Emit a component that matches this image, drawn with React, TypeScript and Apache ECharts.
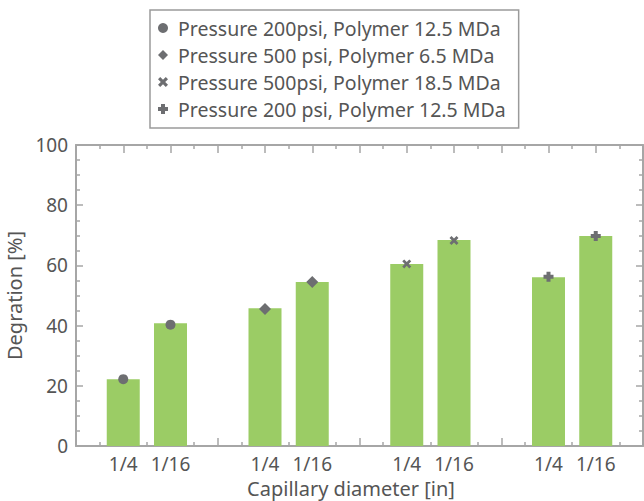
import React, { useEffect, useRef } from "react";
import * as echarts from "echarts";

const barPositions = [1, 2, 4, 5, 7, 8, 10, 11];
const groupLabels = ["1/4", "1/16", "1/4", "1/16", "1/4", "1/16", "1/4", "1/16"];
const degradation = [22.2, 40.8, 45.8, 54.5, 60.5, 68.4, 56.1, 69.8];

const seriesNames = [
  "Pressure 200psi, Polymer 12.5 MDa",
  "Pressure 500 psi, Polymer 6.5 MDa",
  "Pressure 500psi, Polymer 18.5 MDa",
  "Pressure 200 psi, Polymer 12.5 MDa",
];
const circleX = [1, 2];
const circleY = [22.2, 40.3];
const diamondX = [4, 5];
const diamondY = [45.5, 54.5];
const crossX = [7, 8];
const crossY = [60.5, 68.3];
const plusX = [10, 11];
const plusY = [56.2, 69.8];

const FONT = "'Noto Sans', Roboto, sans-serif";
const AXIS_COLOR = "#a6a6a6";
const TEXT_COLOR = "#555555";
const MARKER_COLOR = "#6d6e71";
const BAR_COLOR = "#9bcc65";

const CROSS_PATH =
  "path://M0,2.2 L2.2,0 L5,2.8 L7.8,0 L10,2.2 L7.2,5 L10,7.8 L7.8,10 L5,7.2 L2.2,10 L0,7.8 L2.8,5 Z";
const PLUS_PATH = "path://M3,0 H7 V3 H10 V7 H7 V10 H3 V7 H0 V3 H3 Z";

const symbols = ["circle", "diamond", CROSS_PATH, PLUS_PATH];

function pairs(xs: number[], ys: number[]) {
  return xs.map((x, i) => [x, ys[i]]);
}

export default function App() {
  const ref = useRef<HTMLDivElement>(null);
  useEffect(() => {
    if (!ref.current) return;
    const chart = echarts.init(ref.current, undefined, { renderer: "svg" });

    const lineCommon = {
      axisLine: { show: true, onZero: false, lineStyle: { color: AXIS_COLOR, width: 2 } },
      splitLine: { show: false },
    };
    const ticks = (major: number, minor: number, split: number) => ({
      axisTick: { show: true, inside: true, length: major, lineStyle: { color: AXIS_COLOR, width: 1.5 } },
      minorTick: { show: true, splitNumber: split, length: minor, lineStyle: { color: AXIS_COLOR, width: 1.5 } },
    });
    const xBase: any = { type: "value", min: 0, max: 12, interval: 1, ...lineCommon, ...ticks(8, 4, 2) };
    const yBase: any = { type: "value", min: 0, max: 100, interval: 20, ...lineCommon, ...ticks(7, 4, 4) };

    const scatterData = [
      pairs(circleX, circleY),
      pairs(diamondX, diamondY),
      pairs(crossX, crossY),
      pairs(plusX, plusY),
    ];
    const symbolSizes = [10, 12, 9, 10];

    chart.setOption({
      animation: false,
      textStyle: { fontFamily: FONT },
      grid: { left: 76, right: 1, top: 145, bottom: 55, outerBoundsMode: "none", containLabel: false },
      legend: {
        orient: "vertical",
        left: 150,
        top: 10,
        padding: [8, 13, 9, 8],
        itemGap: 7,
        itemWidth: 10,
        itemHeight: 10,
        borderColor: "#9a9a9a",
        borderWidth: 1.5,
        selectedMode: false,
        textStyle: { fontSize: 19.5, color: TEXT_COLOR, fontFamily: FONT, padding: [0, 0, 0, 5] },
        data: seriesNames.map((n, i) => ({
          name: n,
          icon: symbols[i],
          itemStyle: { color: MARKER_COLOR },
        })),
      },
      xAxis: [
        {
          ...xBase,
          position: "bottom",
          name: "Capillary diameter [in]",
          nameLocation: "middle",
          nameGap: 32,
          nameTextStyle: { fontSize: 20, color: TEXT_COLOR, fontFamily: FONT, padding: [0, 17, 0, 0] },
          axisLabel: {
            fontSize: 19,
            color: TEXT_COLOR,
            fontFamily: FONT,
            margin: 8,
            formatter: (v: number) => {
              const i = barPositions.indexOf(v);
              return i >= 0 ? groupLabels[i] : "";
            },
          },
        },
        { ...xBase, position: "top", axisLabel: { show: false } },
      ],
      yAxis: [
        {
          ...yBase,
          position: "left",
          name: "Degration [%]",
          nameLocation: "middle",
          nameGap: 44,
          nameTextStyle: { fontSize: 20, color: TEXT_COLOR, fontFamily: FONT },
          axisLabel: { fontSize: 19, color: TEXT_COLOR, fontFamily: FONT, margin: 8 },
        },
        { ...yBase, position: "right", axisLabel: { show: false } },
      ],
      series: [
        {
          type: "bar",
          name: "bars",
          xAxisIndex: 0,
          yAxisIndex: 0,
          barWidth: 33,
          itemStyle: { color: BAR_COLOR },
          data: pairs(barPositions, degradation),
          z: 1,
        },
        ...seriesNames.map((n, i) => ({
          type: "scatter",
          name: n,
          xAxisIndex: 0,
          yAxisIndex: 0,
          symbol: symbols[i],
          symbolSize: symbolSizes[i],
          itemStyle: { color: MARKER_COLOR, opacity: 1 },
          data: scatterData[i],
          z: 3,
        })),
      ],
    });
    return () => chart.dispose();
  }, []);
  return (
    <div
      ref={ref}
      style={{ position: "fixed", left: 0, top: 0, width: 644, height: 501, background: "#fff" }}
    />
  );
}
